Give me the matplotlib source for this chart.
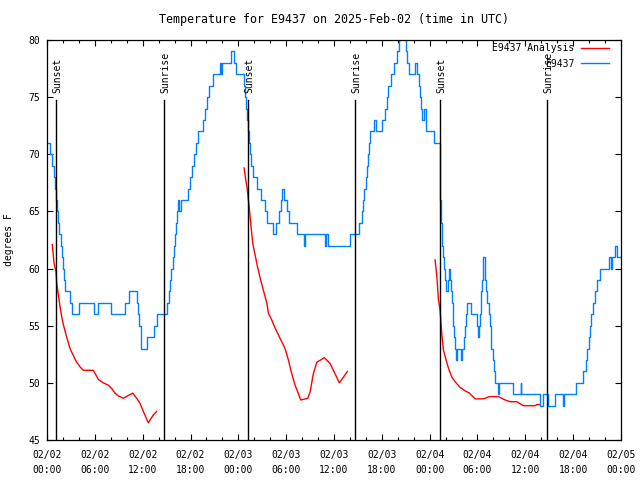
import matplotlib
matplotlib.use("Agg")
import matplotlib.pyplot as plt
import numpy as np

# observed temperature (hours since 2025-02-02 00:00 UTC, degrees F), stepped
obs_hours = [0.15, 0.4, 0.65, 0.85, 1.0, 1.1, 1.25, 1.4, 1.55, 1.7, 1.85, 2.0, 2.1, 2.25, 2.85, 3.15,
             4.05, 5.95, 6.4, 8.05, 9.8, 10.3, 11.3, 11.45, 11.6, 11.75, 11.85, 12.5, 13.45, 13.75,
             15.1, 15.3, 15.45, 15.6, 15.75, 15.95, 16.05, 16.2, 16.35, 16.45, 16.6, 16.85, 17.7, 17.9,
             18.2, 18.5, 18.75, 19.0, 19.6, 19.8, 20.1, 20.3, 20.85, 21.65, 21.8, 22.0, 23.1, 23.5, 23.7,
             24.7, 24.8, 24.9, 25.05, 25.25, 25.35, 25.45, 25.6, 25.8, 26.4, 26.8, 27.3, 27.6, 28.3,
             28.7, 29.1, 29.4, 29.5, 29.7, 30.1, 30.3, 31.4, 32.2, 32.35, 34.9, 35.0, 35.2, 38.0, 39.1,
             39.45, 39.6, 39.8, 40.0, 40.15, 40.3, 40.4, 40.5, 41.05, 41.3, 42.0, 42.35, 42.6, 42.8,
             43.15, 43.5, 43.9, 44.2, 44.4, 44.9, 45.0, 45.1, 45.4, 46.2, 46.4, 46.6, 46.75, 46.9, 47.1,
             47.3, 47.5, 47.6, 48.5, 49.25, 49.3, 49.35, 49.45, 49.55, 49.7, 49.8, 49.9, 50.05, 50.35,
             50.45, 50.6, 50.7, 50.8, 50.9, 50.95, 51.05, 51.15, 51.25, 51.4, 51.9, 52.1, 52.3, 52.4,
             52.55, 52.7, 53.2, 54.0, 54.1, 54.25, 54.35, 54.45, 54.5, 54.6, 54.65, 54.75, 54.9, 55.0,
             55.1, 55.25, 55.45, 55.6, 55.7, 55.75, 55.9, 56.05, 56.25, 56.55, 56.7, 58.4, 59.4, 59.5,
             61.9, 62.2, 62.8, 63.7, 64.7, 64.9, 66.3, 67.2, 67.55, 67.75, 67.95, 68.1, 68.25, 68.45,
             68.7, 68.95, 69.4, 70.5, 70.7, 70.9, 71.2, 71.55, 71.85]
obs_temp = [71, 70, 69, 68, 67, 66, 65, 64, 63, 62, 61, 60, 59, 58, 57, 56,
            57, 56, 57, 56, 57, 58, 57, 56, 55, 54, 53, 54, 55, 56,
            57, 58, 59, 60, 61, 62, 63, 64, 65, 66, 65, 66, 67, 68,
            69, 70, 71, 72, 73, 74, 75, 76, 77, 78, 77, 78, 79, 78, 77,
            76, 75, 74, 73, 72, 71, 70, 69, 68, 67, 66, 65, 64, 63,
            64, 65, 66, 67, 66, 65, 64, 63, 62, 63, 62, 63, 62, 63, 64,
            65, 66, 67, 68, 69, 70, 71, 72, 73, 72, 73, 74, 75, 76,
            77, 78, 79, 80, 81, 80, 79, 78, 77, 78, 77, 76, 75, 74, 73,
            74, 73, 72, 71, 70, 68, 66, 64, 62, 61, 60, 59, 58, 59,
            60, 59, 58, 57, 56, 55, 54, 53, 52, 53, 52, 53, 54, 55,
            56, 57, 56, 55, 54, 55, 56, 57, 58, 59, 60, 61, 60, 59,
            58, 57, 56, 55, 54, 53, 52, 51, 50, 49, 50, 49, 50, 49,
            48, 49, 48, 49, 48, 49, 50, 51, 52, 53, 54, 55, 56, 57,
            58, 59, 60, 61, 60, 61, 62, 61, 61]

# analysis (three runs, gaps as nan)
ana_hours = [0.66, 0.88, 1.13, 1.22, 1.42, 1.63, 1.84, 2.05, 2.47, 2.89, 3.3, 3.64, 4.14, 4.55, 5.81,
             6.44, 7.06, 7.69, 8.12, 8.53, 8.95, 9.57, 10.08, 10.75, 11.25, 11.67, 12.08, 12.71, 13.34,
             13.76, np.nan,
             24.72, 24.97, 25.13, 25.26, 25.4, 25.56, 25.81, 26.1, 26.39, 26.73, 27.14, 27.57, 27.77,
             28.19, 28.61, 29.23, 29.86, 30.28, 30.7, 31.12, 31.83, 32.71, 33.0, 33.41, 33.84, 34.79,
             35.51, 35.92, 36.68, 37.18, 37.68, np.nan,
             48.68, 48.9, 49.1, 49.3, 49.52, 49.72, 50.06, 50.35, 50.78, 51.19, 51.82, 52.45, 52.99,
             53.7, 54.74, 55.5, 56.62, 57.47, 58.09, 58.93, 59.76, 61.23, 61.44, 61.86]
ana_temp = [62.1, 60.5, 59.7, 58.7, 57.7, 56.7, 55.8, 55.1, 54.0, 53.0, 52.4, 51.9, 51.4, 51.1, 51.1,
            50.3, 50.0, 49.8, 49.5, 49.1, 48.85, 48.65, 48.85, 49.1, 48.65, 48.2, 47.5, 46.5, 47.2,
            47.5, np.nan,
            68.8, 67.6, 66.9, 66.0, 65.1, 63.9, 62.2, 61.2, 60.2, 59.2, 58.1, 57.0, 56.1,
            55.5, 54.8, 53.9, 53.0, 52.0, 50.8, 49.8, 48.5, 48.65, 49.2, 50.8, 51.8, 52.2,
            51.7, 51.1, 50.0, 50.5, 51.0, np.nan,
            60.75, 59.3, 57.3, 56.4, 54.3, 52.9, 52.0, 51.3, 50.5, 50.1, 49.6, 49.3, 49.1,
            48.6, 48.6, 48.8, 48.8, 48.5, 48.35, 48.35, 48.0, 48.0, 48.1, 48.1]

sun_hours = [1.13, 14.72, 25.25, 38.68, 49.33, 62.77]
sun_labels = ["Sunset", "Sunrise", "Sunset", "Sunrise", "Sunset", "Sunrise"]

tick_hours = list(range(0, 73, 6))
tick_labels = ["02/02\n00:00", "02/02\n06:00", "02/02\n12:00", "02/02\n18:00",
               "02/03\n00:00", "02/03\n06:00", "02/03\n12:00", "02/03\n18:00",
               "02/04\n00:00", "02/04\n06:00", "02/04\n12:00", "02/04\n18:00",
               "02/05\n00:00"]

plt.rcParams['font.family'] = ['DejaVu Sans Mono']
plt.rcParams['font.size'] = 7

fig = plt.figure(figsize=(6.4, 4.8), dpi=100)
ax = fig.add_axes([47/640, 40/480, 574/640, 400/480])

ax.plot(ana_hours, ana_temp, color='#ff0000', lw=1.0, label='E9437 Analysis')
ax.plot(obs_hours, obs_temp, color='#0080ff', lw=1.0, drawstyle='steps-post', label='E9437')

for h, lab in zip(sun_hours, sun_labels):
    ax.plot([h, h], [45, 74.75], color='black', lw=1.0)
    ax.text(h + 0.15, 75.4, lab, rotation=90, ha='center', va='bottom', fontsize=7)

ax.set_xlim(0, 72)
ax.set_ylim(45, 80)
ax.set_xticks(tick_hours)
ax.set_xticklabels(tick_labels, linespacing=1.6)
ax.set_xticks(range(0, 73, 2), minor=True)
ax.set_yticks(range(45, 81, 5))
ax.tick_params(which='both', direction='in', top=True, right=True, width=0.8)
ax.tick_params(which='major', length=4.5)
ax.tick_params(which='minor', length=2.5)
ax.tick_params(axis='x', which='major', pad=7)
ax.tick_params(axis='y', which='major', pad=5)
for s in ax.spines.values():
    s.set_linewidth(0.9)

ax.set_ylabel('degrees F', labelpad=10)
ax.set_title('Temperature for E9437 on 2025-Feb-02 (time in UTC)', pad=12)

ax.legend(loc='upper right', bbox_to_anchor=((609 - 47) / 574, (440 - 43) / 400),
          frameon=False, markerfirst=False, handlelength=2.9, handletextpad=0.7,
          labelspacing=0.6, borderaxespad=0, borderpad=0)

fig.savefig('out.png', dpi=100)
